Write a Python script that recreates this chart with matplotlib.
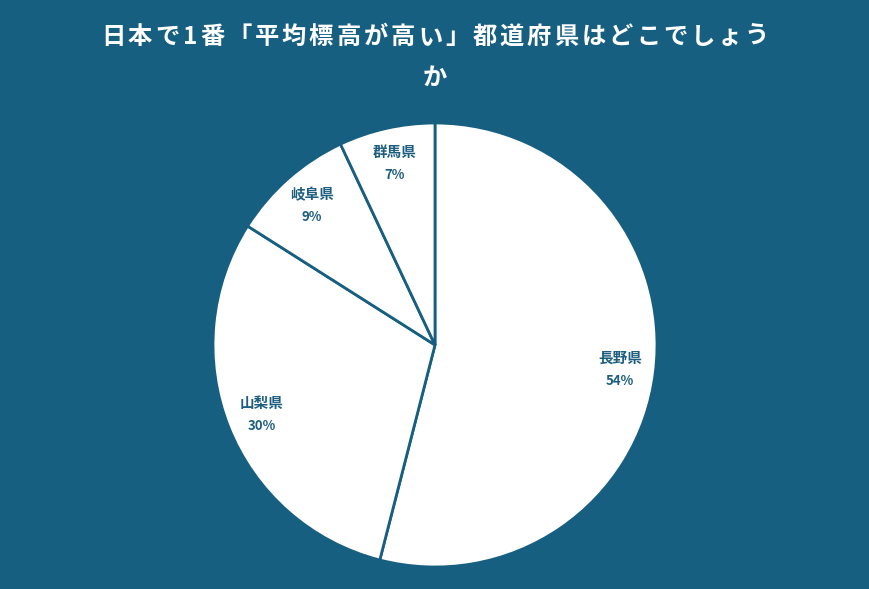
import matplotlib
matplotlib.use("Agg")
import matplotlib.pyplot as plt
import numpy as np

plt.rcParams['font.family'] = ['Noto Sans CJK JP', 'DejaVu Sans']

# data
prefectures = ["長野県", "山梨県", "岐阜県", "群馬県"]
shares = [54, 30, 9, 7]
title_lines = ["日本で1番「平均標高が高い」都道府県はどこでしょう", "か"]

BG = "#175f81"
LABEL_COLOR = "#1d5e80"

fig = plt.figure(figsize=(8.7, 5.89), dpi=100, facecolor=BG)
# pie axes: center (435, 345) px, radius 222 px
r = 222
ax = fig.add_axes([(435 - r) / 870, (589 - 345 - r) / 589, 2 * r / 870, 2 * r / 589])
ax.set_facecolor(BG)

wedges, texts = ax.pie(
    shares,
    startangle=90,
    counterclock=False,
    colors=["white"] * len(shares),
    wedgeprops=dict(edgecolor=BG, linewidth=2.0),
    radius=1.0,
)
ax.set_xlim(-1, 1)
ax.set_ylim(-1, 1)
ax.set_aspect("equal")
ax.axis("off")

start = 90.0
for name, val in zip(prefectures, shares):
    span = 360.0 * val / sum(shares)
    mid = np.deg2rad(start - span / 2)
    start -= span
    x, y = 0.84 * np.cos(mid), 0.84 * np.sin(mid)
    ax.text(x, y + 0.05, name, ha="center", va="center", fontsize=10.5,
            fontweight="bold", color=LABEL_COLOR)
    ax.text(x, y - 0.055, f"{val}%", ha="center", va="center", fontsize=9.5,
            fontweight="bold", color=LABEL_COLOR)

# title with letter spacing
renderer = fig.canvas.get_renderer()
spacing = 3.0  # px between characters
for line, ypix in zip(title_lines, [37, 78]):
    widths = []
    for ch in line:
        t = fig.text(0, 0, ch, fontsize=17.5, fontweight="bold")
        widths.append(t.get_window_extent(renderer).width)
        t.remove()
    total = sum(widths) + spacing * (len(line) - 1)
    xpix = 435 - total / 2
    for ch, w in zip(line, widths):
        fig.text(xpix / 870, 1 - ypix / 589, ch, ha="left", va="center",
                 fontsize=17.5, fontweight="bold", color="white")
        xpix += w + spacing

fig.savefig("out.png", dpi=100, facecolor=BG)
